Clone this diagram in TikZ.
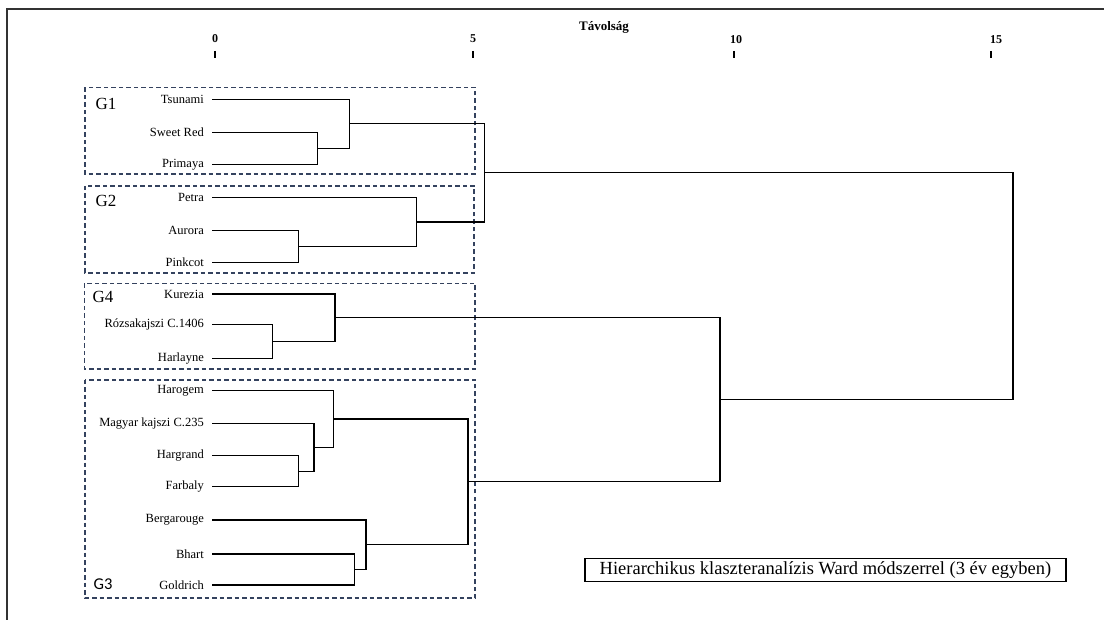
\documentclass[tikz,border=0pt]{standalone}
\usepackage{fontspec}
\setmainfont{Liberation Serif}
\newfontfamily\gsans{Carlito}
\usepackage{tikz}

\definecolor{boxblue}{HTML}{34425E}

\begin{document}
\begin{tikzpicture}[
        x=1pt, y=-1pt,
        leaf/.style={anchor=east,inner xsep=8pt,inner ysep=0pt,font=\fontsize{12.5}{12.5}\selectfont},
        link/.style={draw,line width=1.1pt,black},
        groupbox/.style={draw=boxblue,line width=1.2pt,dash pattern=on 4.5pt off 3pt},
        grouplabel/.style={font=\fontsize{17}{17}\selectfont},
        ticklabel/.style={font=\fontsize{12}{12}\selectfont\bfseries}
    ]

    \useasboundingbox (0,0) rectangle (1104,620);
    \draw[line width=1.6pt,black!80] (7,620) -- (7,9) -- (1104,9);

    % axis
    \node[font=\fontsize{13}{13}\selectfont\bfseries] (axis) at (604,27) {Távolság};
    \node[ticklabel] (t0) at (215,39) {0};
    \node[ticklabel] (t5) at (473,39) {5};
    \node[ticklabel] (t10) at (736,40) {10};
    \node[ticklabel] (t15) at (996,40) {15};
    \foreach \x in {215,473,734,991}
        \draw[line width=1.2pt] (\x,51) -- (\x,58);

    % groups
    \draw[groupbox] (85,87.5) rectangle (475,174);
    \draw[groupbox] (85,186) rectangle (474,273);
    \draw[groupbox] (84.5,283.5) rectangle (475,369);
    \draw[groupbox] (85,380) rectangle (475,598);
    \node[grouplabel] (lg1) at (106,104) {G1};
    \node[grouplabel] (lg2) at (106,201) {G2};
    \node[grouplabel] (lg4) at (103,297) {G4};
    \node[grouplabel,font=\gsans\fontsize{16.5}{16.5}\selectfont] (lg3) at (103,584) {G3};

    % leaves
    \node[leaf] (tsunami) at (212,99.3) {Tsunami};
    \node[leaf] (sweetred) at (212,132.3) {Sweet Red};
    \node[leaf] (primaya) at (212,164.3) {Primaya};
    \node[leaf] (petra) at (212,197.3) {Petra};
    \node[leaf] (aurora) at (212,230.7) {Aurora};
    \node[leaf] (pinkcot) at (212,262.7) {Pinkcot};
    \node[leaf] (kurezia) at (212,294) {Kurezia};
    \node[leaf] (rozsa) at (212,324.3) {Rózsakajszi C.1406};
    \node[leaf] (harlayne) at (212,358.3) {Harlayne};
    \node[leaf] (harogem) at (212,390.7) {Harogem};
    \node[leaf] (magyar) at (212,423.3) {Magyar kajszi C.235};
    \node[leaf] (hargrand) at (212,455.7) {Hargrand};
    \node[leaf] (farbaly) at (212,486.7) {Farbaly};
    \node[leaf] (bergarouge) at (212,520) {Bergarouge};
    \node[leaf] (bhart) at (212,554) {Bhart};
    \node[leaf] (goldrich) at (212,585) {Goldrich};

    % merges
    \coordinate (srpr) at (317.7,148.3);
    \coordinate (g1) at (349.3,123.8);
    \coordinate (aupi) at (298.7,246.7);
    \coordinate (g2) at (416.7,222);
    \coordinate (g12) at (484.3,172.9);
    \coordinate (roha) at (272.3,341.3);
    \coordinate (g4) at (335,317.7);
    \coordinate (hgfb) at (298.7,471.2);
    \coordinate (mahf) at (314,447.3);
    \coordinate (g3a) at (333.3,419);
    \coordinate (bhgo) at (354.7,569.5);
    \coordinate (g3b) at (366,544.7);
    \coordinate (g3) at (468,481.9);
    \coordinate (g43) at (720,399.8);
    \coordinate (root) at (1013,286.4);

    \draw[link] (sweetred.east) -| (srpr) |- (primaya.east);
    \draw[link] (tsunami.east) -| (g1) |- (srpr);
    \draw[link] (aurora.east) -| (aupi) |- (pinkcot.east);
    \draw[link] (petra.east) -| (g2) |- (aupi);
    \draw[link] (g1) -| (g12) |- (g2);

    \draw[link] (rozsa.east) -| (roha) |- (harlayne.east);
    \draw[link] (kurezia.east) -| (g4) |- (roha);

    \draw[link] (hargrand.east) -| (hgfb) |- (farbaly.east);
    \draw[link] (magyar.east) -| (mahf) |- (hgfb);
    \draw[link] (harogem.east) -| (g3a) |- (mahf);
    \draw[link] (bhart.east) -| (bhgo) |- (goldrich.east);
    \draw[link] (bergarouge.east) -| (g3b) |- (bhgo);
    \draw[link] (g3a) -| (g3) |- (g3b);

    \draw[link] (g4) -| (g43) |- (g3);
    \draw[link] (g12) -| (root) |- (g43);

    \node[draw,line width=1.2pt,minimum width=481pt,minimum height=23.5pt,inner sep=0pt,
          font=\fontsize{18.5}{18.5}\selectfont] (legend) at (825.5,570)
        {Hierarchikus klaszteranalízis Ward módszerrel (3 év egyben)};

    \end{tikzpicture}
\end{document}
